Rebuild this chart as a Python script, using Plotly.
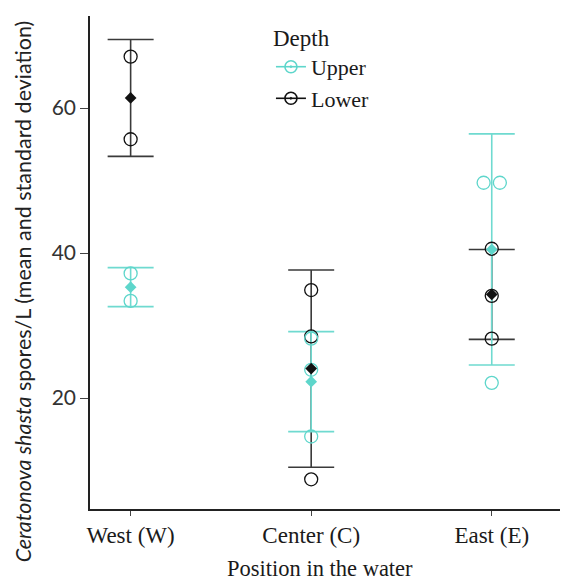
import numpy as np
import plotly.graph_objects as go

# Raw spore counts per sampling position, split by sampling depth
positions = ["West (W)", "Center (C)", "East (E)"]
upper_obs = [[37.2, 33.4], [28.2, 23.9, 14.7], [49.7, 49.7, 22.1]]
lower_obs = [[67.1, 55.7], [34.9, 28.5, 8.8], [40.6, 34.1, 28.2]]

depths = ["Upper", "Lower"]
colors = {"Upper": "#5ed6cb", "Lower": "#111111"}
bar_colors = {"Upper": "#6fdad0", "Lower": "#3a3a3a"}
observations = {"Upper": upper_obs, "Lower": lower_obs}

SERIF = "Liberation Serif, Times New Roman, serif"
SANS = "Lato, Noto Sans, sans-serif"
x_pos = np.arange(1, len(positions) + 1)


def dodge(values, step=0.045):
    """Spread identical observations sideways so both circles stay visible."""
    offsets = []
    for i, v in enumerate(values):
        same = [j for j, w in enumerate(values) if w == v]
        if len(same) > 1:
            k = same.index(i)
            offsets.append((k - (len(same) - 1) / 2) * 2 * step)
        else:
            offsets.append(0.0)
    return offsets


fig = go.Figure()

# mean +/- SD error bars (lower depth first, upper on top)
for depth in ["Lower", "Upper"]:
    obs = observations[depth]
    means = [float(np.mean(o)) for o in obs]
    sds = [float(np.std(o, ddof=1)) for o in obs]
    fig.add_trace(go.Scatter(
        x=x_pos, y=means, mode="markers",
        marker=dict(size=1, color="rgba(0,0,0,0)"),
        error_y=dict(type="data", array=sds, visible=True,
                     color=bar_colors[depth], thickness=1.6, width=23),
        showlegend=False, hoverinfo="skip",
    ))

# individual observations as open circles
for depth in ["Lower", "Upper"]:
    xs, ys = [], []
    for xi, obs in zip(x_pos, observations[depth]):
        for v, off in zip(obs, dodge(obs)):
            xs.append(xi + off)
            ys.append(v)
    fig.add_trace(go.Scatter(
        x=xs, y=ys, mode="markers",
        marker=dict(symbol="circle-open", size=13,
                    color=colors[depth], line=dict(width=1.3)),
        showlegend=False,
    ))

# group means as small filled diamonds
for depth in ["Upper", "Lower"]:
    means = [float(np.mean(o)) for o in observations[depth]]
    fig.add_trace(go.Scatter(
        x=x_pos, y=means, mode="markers",
        marker=dict(symbol="diamond", size=9, color=colors[depth]),
        showlegend=False,
    ))

# legend entries
for depth in depths:
    fig.add_trace(go.Scatter(
        x=[None], y=[None], mode="lines+markers", name=depth,
        line=dict(color=colors[depth], width=1.6),
        marker=dict(symbol="circle-open-dot", size=12,
                    color=colors[depth], line=dict(width=1.6)),
    ))

# axis titles placed as annotations for finer control of their position
fig.add_annotation(
    text="<i>Ceratonova shasta</i> spores/L (mean and standard deviation)",
    xref="paper", yref="paper", x=-0.142, y=0.442,
    xanchor="center", yanchor="middle", textangle=-90, showarrow=False,
    font=dict(family=SANS, size=21.5, color="#222"),
)
fig.add_annotation(
    text="Position in the water",
    xref="paper", yref="paper", x=0.489, y=-0.1217,
    xanchor="center", yanchor="middle", showarrow=False,
    font=dict(family=SERIF, size=22.5, color="#1a1a1a"),
)

fig.update_layout(
    width=568, height=585,
    margin=dict(l=90, r=8, t=16, b=76),
    paper_bgcolor="white", plot_bgcolor="white",
    font=dict(family=SERIF, size=22, color="#1a1a1a"),
    showlegend=True,
    legend=dict(
        title=dict(text="Depth", font=dict(family=SERIF, size=23)),
        x=0.385, y=1.0, xanchor="left", yanchor="top",
        bgcolor="rgba(0,0,0,0)", font=dict(family=SERIF, size=22),
        tracegroupgap=0,
    ),
    xaxis=dict(
        range=[0.775, 3.378], tickmode="array", tickvals=x_pos,
        ticktext=positions, showgrid=False, zeroline=False,
        showline=True, linecolor="#222", linewidth=1.5,
        ticks="outside", ticklen=5, tickcolor="#444", tickwidth=1.2,
        tickfont=dict(family=SERIF, size=23),
    ),
    yaxis=dict(
        range=[4.7, 72.7], tickvals=[20, 40, 60], showgrid=False,
        zeroline=False, showline=True, linecolor="#222", linewidth=1.5,
        ticks="outside", ticklen=8, tickcolor="#444", tickwidth=1.2,
        tickfont=dict(family=SANS, size=21, color="#333"),
    ),
)

fig.write_html("out.html")
